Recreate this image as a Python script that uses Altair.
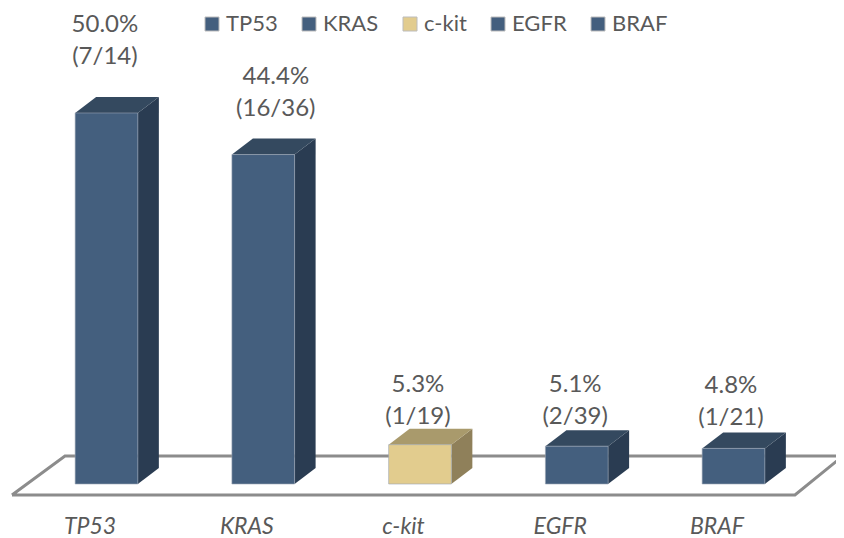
import json
import altair as alt
import pandas as pd

categories = ["TP53", "KRAS", "c-kit", "EGFR", "BRAF"]
percent = [50.0, 44.4, 5.3, 5.1, 4.8]
fractions = ["(7/14)", "(16/36)", "(1/19)", "(2/39)", "(1/21)"]
front_colors = ["#445f7e", "#445f7e", "#e2cc8e", "#445f7e", "#445f7e"]
side_colors = ["#2a3c52", "#2a3c52", "#8f805a", "#2a3c52", "#2a3c52"]
top_colors = ["#34495f", "#34495f", "#a99a6c", "#34495f", "#34495f"]
label_shift = [-0.01, 0.08, -0.013, -0.01, -0.016]
label_lift = [11.9, 10.4, 8.1, 8.2, 8.35]

HALF = 0.2
DX = 0.134
DY = 2.156
TEXT = "#595959"
FONT = "Lato"

xs = alt.Scale(domain=[-0.6284, 4.6539], nice=False, zero=False)
ys = alt.Scale(domain=[-3.504, 64.15], nice=False, zero=False)

front = pd.DataFrame({
    "cat": categories,
    "l": [i - HALF for i in range(5)],
    "r": [i + HALF for i in range(5)],
    "v": percent,
    "zero": [0] * 5,
})

side_rows, top_rows = [], []
for i, (c, v) in enumerate(zip(categories, percent)):
    l, r = i - HALF, i + HALF
    side_rows += [
        {"cat": c, "x": r, "lo": 0, "hi": v, "fill": side_colors[i]},
        {"cat": c, "x": r + DX, "lo": DY, "hi": v + DY, "fill": side_colors[i]},
    ]
    top_rows += [
        {"cat": c, "x": l, "lo": v, "hi": v, "fill": top_colors[i]},
        {"cat": c, "x": l + DX, "lo": v, "hi": v + DY, "fill": top_colors[i]},
        {"cat": c, "x": r, "lo": v, "hi": v + DY, "fill": top_colors[i]},
        {"cat": c, "x": r + DX, "lo": v + DY, "hi": v + DY, "fill": top_colors[i]},
    ]

floor_x = [-0.603, 4.392, 4.698, -0.265, -0.603]
floor_y = [-1.48, -1.48, 3.77, 3.77, -1.48]
floor = pd.DataFrame({"x": floor_x, "y": floor_y, "o": range(5)})

labels = pd.DataFrame({
    "x": [i + s for i, s in enumerate(label_shift)],
    "y": [v + k for v, k in zip(percent, label_lift)],
    "t": [f"{v:.1f}%\n{f}" for v, f in zip(percent, fractions)],
})

floor_layer = alt.Chart(floor).mark_line(color="#8c8c8c", strokeWidth=3, strokeJoin="miter").encode(
    x=alt.X("x:Q", scale=xs, title=None,
            axis=alt.Axis(values=list(range(5)), domain=False, ticks=False, grid=False,
                          labelExpr=f"{json.dumps(categories)}[datum.value]",
                          labelFont=FONT, labelFontSize=23, labelFontStyle="italic",
                          labelColor=TEXT, labelPadding=5, labelOffset=-17,
                          labelFlush=False, labelOverlap=False)),
    y=alt.Y("y:Q", scale=ys, axis=None),
    order="o:Q",
)

side_layer = alt.Chart(pd.DataFrame(side_rows)).mark_area(interpolate="linear", opacity=1).encode(
    x=alt.X("x:Q", scale=xs),
    y=alt.Y("lo:Q", scale=ys),
    y2="hi:Q",
    detail="cat:N",
    fill=alt.Fill("fill:N", scale=None),
)

top_layer = alt.Chart(pd.DataFrame(top_rows)).mark_area(interpolate="linear", opacity=1).encode(
    x=alt.X("x:Q", scale=xs),
    y=alt.Y("lo:Q", scale=ys),
    y2="hi:Q",
    detail="cat:N",
    fill=alt.Fill("fill:N", scale=None),
)

front_layer = alt.Chart(front).mark_bar(stroke="#9aa5b3", strokeWidth=0.6, opacity=1).encode(
    x=alt.X("l:Q", scale=xs),
    x2="r:Q",
    y=alt.Y("zero:Q", scale=ys),
    y2="v:Q",
    fill=alt.Fill("cat:N",
                  scale=alt.Scale(domain=categories, range=front_colors),
                  sort=categories,
                  legend=alt.Legend(orient="none", legendX=193, legendY=5, direction="horizontal",
                                    columns=5, title=None, symbolType="square", symbolSize=196,
                                    symbolStrokeColor="#bcbcbc", symbolStrokeWidth=1,
                                    labelFont=FONT, labelFontSize=22, labelColor=TEXT,
                                    labelOffset=3, columnPadding=20, symbolOpacity=1)),
)

text_layer = alt.Chart(labels).mark_text(
    font=FONT, fontSize=24, color=TEXT, lineBreak="\n", lineHeight=32,
    baseline="middle", align="center",
).encode(
    x=alt.X("x:Q", scale=xs),
    y=alt.Y("y:Q", scale=ys),
    text="t:N",
)

chart = (
    alt.layer(floor_layer, side_layer, top_layer, front_layer, text_layer)
    .resolve_scale(fill="independent")
    .properties(width=828, height=502, background="white",
                padding={"left": 0, "top": 0, "right": 0, "bottom": 28},
                autosize=alt.AutoSizeParams(type="none"))
    .configure_view(stroke=None)
)

chart.save("out.html", embed_options={"renderer": "svg", "actions": False})
